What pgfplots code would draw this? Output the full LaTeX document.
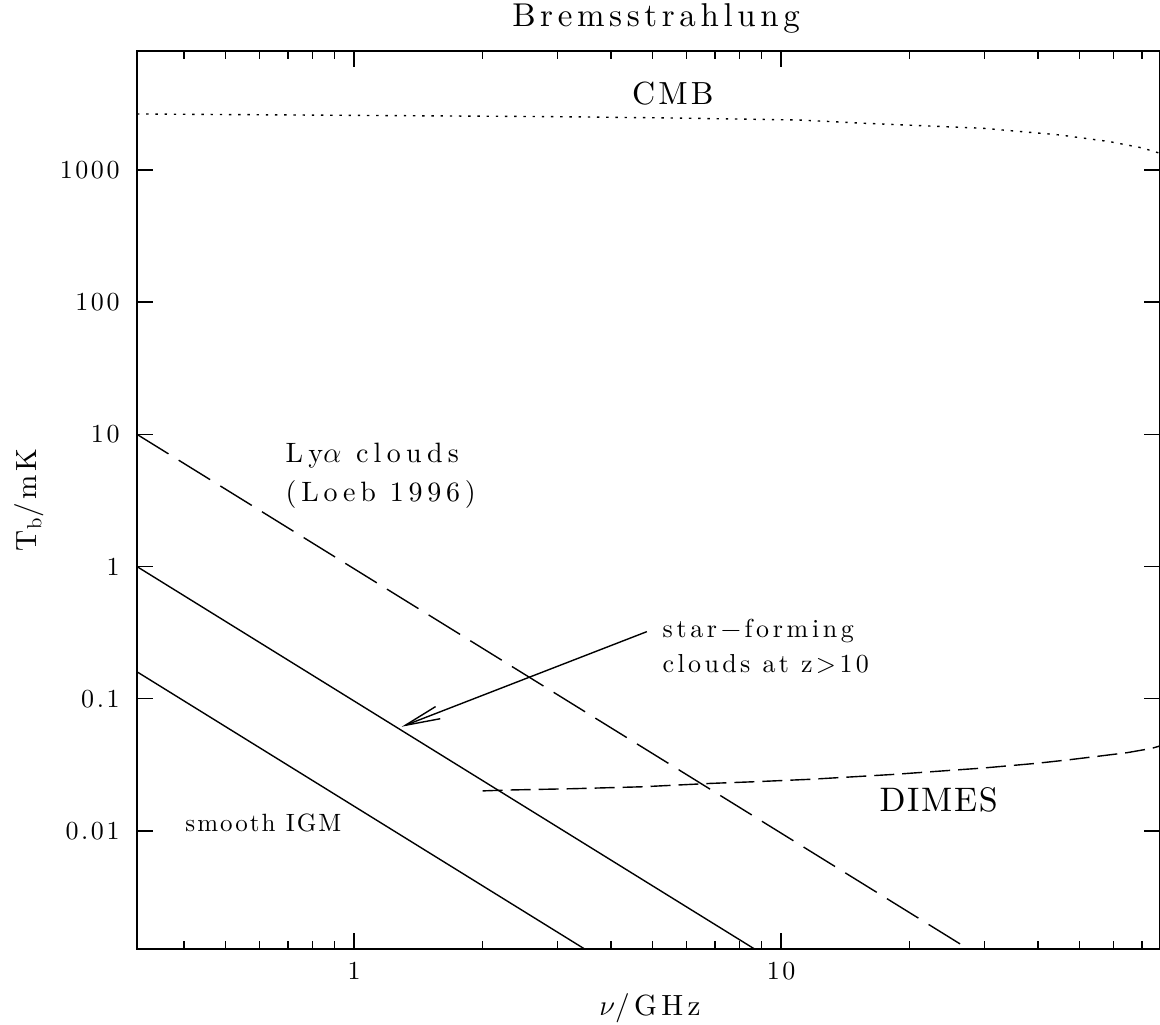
\documentclass[border=0pt]{standalone}
\usepackage{fontspec}
\setmainfont{lmroman10-regular.otf}[LetterSpace=12]
\usepackage{pgfplots}
\pgfplotsset{compat=1.18}
\usetikzlibrary{arrows.meta}
% font size, baselineskip, letter spacing
\newcommand\lf[3]{\fontspec{lmroman10-regular.otf}[LetterSpace=#3]\fontsize{#1}{#2}\selectfont}

\begin{document}
\begin{tikzpicture}
\begin{axis}[
  at={(0,0)}, anchor=south west,
  scale only axis, width=511.5pt, height=449pt,
  xmode=log, ymode=log,
  xmin=0.3102, xmax=77.2, ymin=0.00128, ymax=7943,
  xtick={1,10}, xticklabels={1,10},
  minor xtick={0.4,0.5,0.6,0.7,0.8,0.9,2,3,4,5,6,7,8,9,20,30,40,50,60,70},
  ytick={0.01,0.1,1,10,100,1000}, yticklabels={0.01,0.1,1,10,100,1000},
  yminorticks=false,
  tick align=inside, tick pos=both,
  major tick length=8pt, minor tick length=3.8pt,
  tick style={black, line width=0.7pt},
  axis line style={line width=0.9pt},
  xticklabel style={font=\lf{13}{15}{10}, inner sep=0pt, anchor=north, yshift=-6.5pt},
  yticklabel style={font=\lf{13}{15}{10}, inner sep=0pt, anchor=east, xshift=-8.5pt},
  clip=false,
]
% CMB (dotted)
\addplot[black, line width=0.7pt, dash pattern=on 1.2pt off 3.4pt] coordinates {
  (0.3102,2652) (1.28,2575) (3,2530) (5.58,2472) (11,2388) (15.7,2255)
  (29.7,2067) (45,1840) (58.9,1637) (70,1470) (76.3,1352) (77.2,1335)};
% Ly alpha clouds (long dashes)
\addplot[black, line width=0.7pt, dash pattern=on 18.5pt off 6pt] coordinates {
  (0.3102,10) (27.45,0.00128)};
% star-forming clouds
\addplot[black, line width=0.7pt] coordinates {(0.3102,1) (8.67,0.00128)};
% smooth IGM
\addplot[black, line width=0.7pt] coordinates {(0.3102,0.160) (3.468,0.00128)};
% DIMES (dashed)
\addplot[black, line width=0.7pt, dash pattern=on 10pt off 4pt] coordinates {
  (2.0,0.0201) (2.28,0.0204) (3.28,0.0209) (4.74,0.0216) (6.83,0.0229)
  (8.73,0.0236) (11.7,0.0246) (15.7,0.0260) (18.4,0.0268) (25.5,0.0289)
  (29.6,0.0299) (39.7,0.0325) (47.0,0.0345) (54.3,0.0365) (64.6,0.0391)
  (73.9,0.0422) (77.2,0.0440)};
% arrow
\draw[black, line width=0.7pt, -{Straight Barb[length=17.5pt, width=6.5pt]}]
  (axis cs:4.85,0.322) -- (axis cs:1.293,0.0615);
% annotations
\node[anchor=base, inner sep=0pt, font=\lf{16}{19}{10}] at (axis cs:5.58,3155) {CMB};
\node[anchor=base west, inner sep=0pt, font=\lf{14}{16}{19}] at (axis cs:0.690,6.08) {Ly$\alpha$ clouds};
\node[anchor=base west, inner sep=0pt, font=\lf{14}{16}{17}] at (axis cs:0.690,3.13) {(Loeb 1996)};
\node[anchor=base west, inner sep=0pt, font=\lf{13}{15}{14}] at (axis cs:5.27,0.293) {star\textminus forming};
\node[anchor=base west, inner sep=0pt, font=\lf{13}{15}{13}] at (axis cs:5.27,0.1567) {clouds at z>10};
\node[anchor=base, inner sep=0pt, font=\lf{17}{20}{5}] at (axis cs:23.4,0.0140) {DIMES};
\node[anchor=base west, inner sep=0pt, font=\lf{12.5}{15}{8}] at (axis cs:0.402,0.00988) {smooth IGM};
\end{axis}
% title and axis labels
\node[anchor=base, inner sep=0pt, font=\lf{16.5}{19}{14}] at (259.5pt,461pt) {Bremsstrahlung};
\node[anchor=base, inner sep=0pt, font=\lf{14.6}{17}{15}] at (256.5pt,-33pt) {$\nu$/GHz};
\node[anchor=base, inner sep=0pt, rotate=90, font=\lf{14.6}{17}{12}] at (-50pt,224.5pt) {T$_\mathrm{b}$/mK};
\pgfresetboundingbox
\path (-68.5pt,-37.5pt) rectangle (511.5pt,474.5pt);
\end{tikzpicture}
\end{document}
